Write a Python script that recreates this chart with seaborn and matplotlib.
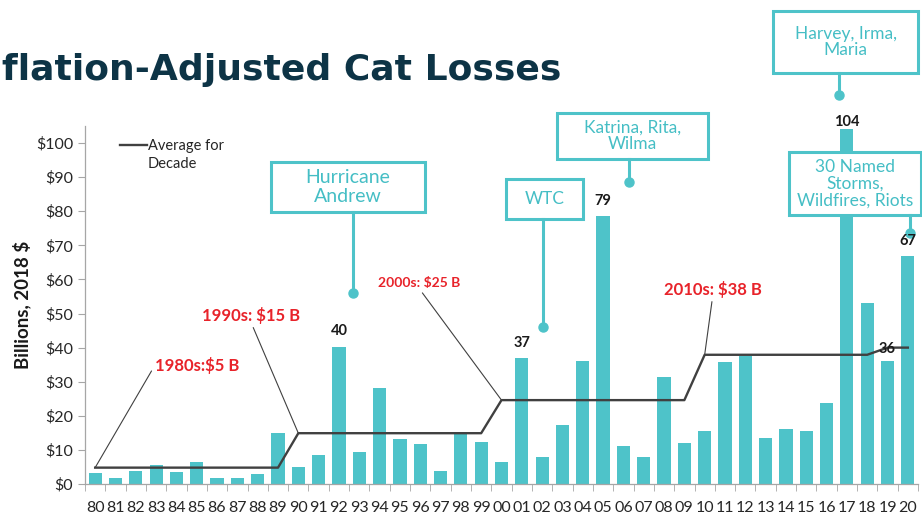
import numpy as np
import seaborn as sns
import matplotlib.pyplot as plt
from matplotlib.patches import Rectangle

# insured cat losses, billions 2018 $
years = ['80', '81', '82', '83', '84', '85', '86', '87', '88', '89',
         '90', '91', '92', '93', '94', '95', '96', '97', '98', '99',
         '00', '01', '02', '03', '04', '05', '06', '07', '08', '09',
         '10', '11', '12', '13', '14', '15', '16', '17', '18', '19', '20']
losses = [3.3, 1.9, 3.8, 5.5, 3.6, 6.4, 1.9, 1.9, 2.8, 14.9,
          5.1, 8.5, 40.3, 9.4, 28.2, 13.3, 11.7, 3.9, 15.3, 12.3,
          6.5, 37.0, 7.9, 17.4, 36.0, 78.5, 11.2, 7.8, 31.3, 12.1,
          15.4, 35.8, 37.4, 13.5, 16.0, 15.6, 23.7, 104.0, 53.0, 36.0, 66.9]
decade_avg = [4.8, 4.8, 4.8, 4.8, 4.8, 4.8, 4.8, 4.8, 4.8, 4.8,
              14.9, 14.9, 14.9, 14.9, 14.9, 14.9, 14.9, 14.9, 14.9, 14.9,
              24.6, 24.6, 24.6, 24.6, 24.6, 24.6, 24.6, 24.6, 24.6, 24.6,
              37.9, 37.9, 37.9, 37.9, 37.9, 37.9, 37.9, 37.9, 37.9, 40.0, 40.0]
labeled = ['92', '01', '05', '17', '19', '20']
label_text = ['40', '37', '79', '104', '36', '67']
label_off = [6, 6, 6, 0, 4, 6]

TEAL = '#4EC3C9'
TEAL_TXT = '#45BEC5'
RED = '#E8232A'
W, H = 922, 513

plt.rcParams['font.family'] = ['Lato', 'DejaVu Sans']

fig = plt.figure(figsize=(9.22, 5.13), dpi=100)
ax = fig.add_axes([85 / W, 29 / H, 833 / W, 358 / H])

sns.barplot(x=years, y=losses, color=TEAL, saturation=1, width=0.65, ax=ax)
sns.lineplot(x=np.arange(len(years)), y=decade_avg, color='#404040', lw=1.7, ax=ax)

ax.set_xlim(-0.5, len(years) - 0.5)
ax.set_ylim(0, 105)
ax.set_yticks(np.arange(0, 101, 10))
ax.set_yticklabels([f'${v}' for v in range(0, 101, 10)])
ax.set_xticks(np.arange(len(years)))
ax.set_xticklabels(years)
ax.set_xticks(np.arange(-0.5, len(years), 1), minor=True)
ax.tick_params(axis='x', which='major', length=0, labelsize=11.5, pad=12, labelcolor='#262626')
ax.tick_params(axis='x', which='minor', length=5, color='#A6A6A6')
ax.tick_params(axis='y', length=5, color='#A6A6A6', labelsize=11.5, labelcolor='#262626')
ax.set_xlabel('')
ax.set_ylabel('Billions, 2018 $', fontsize=13.5, fontweight='bold', color='#1a1a1a')
ax.yaxis.set_label_coords(-0.064, 0.5)
for s in ['top', 'right']:
    ax.spines[s].set_visible(False)
for s in ['left', 'bottom']:
    ax.spines[s].set_color('#A6A6A6')
    ax.spines[s].set_linewidth(0.9)

# value labels on the big years
for yr, txt, off in zip(labeled, label_text, label_off):
    i = years.index(yr)
    ax.annotate(txt, (i, losses[i]), xytext=(0, off), textcoords='offset points',
                ha='center', va='bottom', fontsize=10.5, fontweight='bold', color='#1a1a1a',
                zorder=8)


def ff(x, y):
    return x / W, 1 - y / H


# legend
ax.plot([120 / W, 147 / W], [1 - 145 / H] * 2, color='#404040', lw=1.7,
        transform=fig.transFigure, clip_on=False)
fig.text(148 / W, 1 - 155 / H, 'Average for\nDecade', ha='left', va='center',
         fontsize=10.5, color='#262626', linespacing=1.45)

# decade averages
decade_lbl = [('1980s:$5 B', 0, (155, 365), 'left', (0, 0.5), 12),
              ('1990s: $15 B', 10, (251.5, 315), 'center', (0.5, 0), 12),
              ('2000s: $25 B', 20, (419.5, 283), 'center', (0.5, 0), 10),
              ('2010s: $38 B', 30, (712.5, 289), 'center', (0.5, 0), 12)]
for txt, i, pos, ha, rp, fs in decade_lbl:
    ax.annotate(txt, (i, decade_avg[i]), xytext=ff(*pos), textcoords='figure fraction',
                ha=ha, va='center', fontsize=fs, fontweight='bold', color=RED,
                arrowprops=dict(arrowstyle='-', color='#404040', lw=0.8,
                                shrinkA=1, shrinkB=0, relpos=rp))


# event callouts
def callout(x0, y0, x1, y1, text, lx, dot_y, fs=12.5, ls=1.05):
    ax.add_patch(Rectangle(ff(x0, y1), (x1 - x0) / W, (y1 - y0) / H, transform=fig.transFigure,
                           facecolor='white', edgecolor=TEAL, lw=2.2, clip_on=False, zorder=6))
    fig.text((x0 + x1) / 2 / W, 1 - (y0 + y1) / 2 / H, text, ha='center', va='center',
             fontsize=fs, color=TEAL_TXT, linespacing=ls, zorder=7)
    ax.plot([lx / W, lx / W], [1 - y1 / H, 1 - dot_y / H], color=TEAL, lw=2.2,
            transform=fig.transFigure, clip_on=False, zorder=6)
    ax.plot([lx / W], [1 - dot_y / H], 'o', ms=6.5, color=TEAL,
            transform=fig.transFigure, clip_on=False, zorder=6)


callout(271, 162, 425, 212, 'Hurricane\nAndrew', 353, 293, fs=14, ls=1.15)
callout(506, 179, 583, 219, 'WTC', 543, 327)
callout(557, 113, 708, 159, 'Katrina, Rita,\nWilma', 629, 182)
callout(773, 11, 918, 73, 'Harvey, Irma,\nMaria', 839, 95)
callout(789, 152, 921, 215, '30 Named\nStorms,\nWildfires, Riots', 910, 233)

# title as it shows in the (cropped) slide
fig.text(2 / W, 1 - 80 / H, 'flation-Adjusted Cat Losses', ha='left', va='baseline',
         fontsize=26, fontweight='bold', color='#0D3446', family='DejaVu Sans')

fig.savefig('out.png', dpi=100)
